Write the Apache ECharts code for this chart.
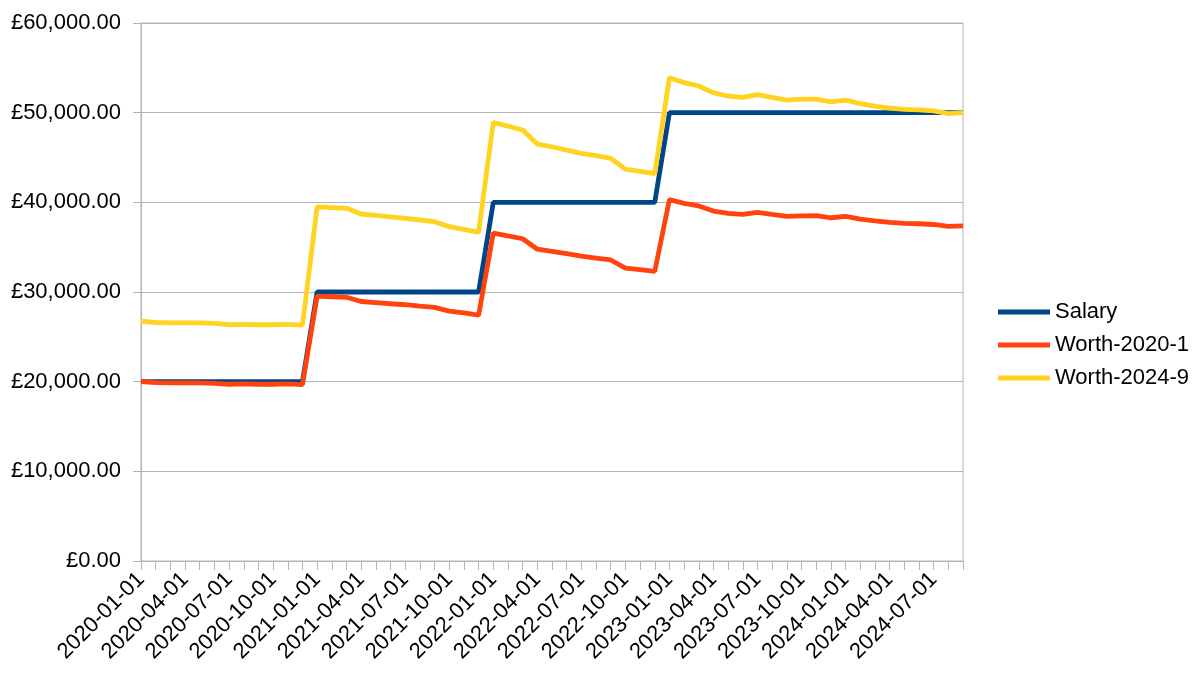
<!DOCTYPE html>
<html>
<head>
<meta charset="utf-8">
<script src="https://cdn.jsdelivr.net/npm/echarts@6/dist/echarts.min.js"></script>
<style>
html,body{margin:0;padding:0;background:#fff;}
#chart{width:1202px;height:688px;}
</style>
</head>
<body>
<div id="chart"></div>
<script>
const categories = [
 '2020-01-01','2020-02-01','2020-03-01','2020-04-01','2020-05-01','2020-06-01','2020-07-01','2020-08-01','2020-09-01','2020-10-01','2020-11-01','2020-12-01',
 '2021-01-01','2021-02-01','2021-03-01','2021-04-01','2021-05-01','2021-06-01','2021-07-01','2021-08-01','2021-09-01','2021-10-01','2021-11-01','2021-12-01',
 '2022-01-01','2022-02-01','2022-03-01','2022-04-01','2022-05-01','2022-06-01','2022-07-01','2022-08-01','2022-09-01','2022-10-01','2022-11-01','2022-12-01',
 '2023-01-01','2023-02-01','2023-03-01','2023-04-01','2023-05-01','2023-06-01','2023-07-01','2023-08-01','2023-09-01','2023-10-01','2023-11-01','2023-12-01',
 '2024-01-01','2024-02-01','2024-03-01','2024-04-01','2024-05-01','2024-06-01','2024-07-01','2024-08-01','2024-09-01'
];

const salary = [
 20000,20000,20000,20000,20000,20000,20000,20000,20000,20000,20000,20000,
 30000,30000,30000,30000,30000,30000,30000,30000,30000,30000,30000,30000,
 40000,40000,40000,40000,40000,40000,40000,40000,40000,40000,40000,40000,
 50000,50000,50000,50000,50000,50000,50000,50000,50000,50000,50000,50000,
 50000,50000,50000,50000,50000,50000,50000,50000,50000
];

const worth2020 = [
 20000,19900,19860,19860,19860,19820,19710,19750,19710,19710,19750,19670,
 29540,29470,29410,28940,28820,28690,28580,28430,28290,27870,27660,27410,
 36560,36260,35940,34770,34540,34270,34000,33790,33570,32670,32490,32300,
 40300,39890,39600,39030,38770,38650,38880,38650,38430,38500,38520,38280,
 38430,38130,37940,37760,37660,37610,37530,37310,37380
];

const worth2024 = [
 26750,26600,26550,26550,26550,26500,26350,26400,26350,26350,26400,26300,
 39500,39420,39330,38700,38550,38370,38220,38030,37840,37280,36990,36660,
 48900,48500,48070,46500,46200,45830,45470,45200,44900,43700,43450,43200,
 53900,53350,52970,52200,51860,51700,52000,51700,51400,51500,51520,51200,
 51400,51000,50740,50500,50370,50300,50200,49900,50000
];

const yTicks = { min: 0, max: 60000, interval: 10000 };

const FONT = 'Liberation Sans';
const chart = echarts.init(document.getElementById('chart'), null, { renderer: 'canvas' });

function fmtMoney(v) {
  return '£' + Number(v).toLocaleString('en-GB', { minimumFractionDigits: 2, maximumFractionDigits: 2 });
}

chart.setOption({
  animation: false,
  backgroundColor: '#ffffff',
  textStyle: { fontFamily: FONT },
  grid: {
    left: 141, right: 239, top: 23, bottom: 127,
    show: true, borderColor: '#b3b3b3', borderWidth: 1, backgroundColor: 'transparent'
  },
  legend: {
    orient: 'vertical',
    left: 998,
    top: 301,
    padding: 0,
    icon: 'rect',
    itemWidth: 52,
    itemHeight: 5,
    itemGap: 11,
    textStyle: { fontFamily: FONT, fontSize: 22, color: '#000' },
    data: ['Salary', 'Worth-2020-1', 'Worth-2024-9']
  },
  xAxis: {
    type: 'category',
    data: categories,
    boundaryGap: false,
    axisLine: { show: true, lineStyle: { color: '#b3b3b3', width: 1 } },
    axisTick: { show: true, interval: 0, length: 9, lineStyle: { color: '#b3b3b3' } },
    axisLabel: {
      interval: 2,
      rotate: 45,
      margin: 15,
      fontFamily: FONT,
      fontSize: 22,
      color: '#000'
    },
    splitLine: { show: false }
  },
  yAxis: {
    type: 'value',
    min: yTicks.min,
    max: yTicks.max,
    interval: yTicks.interval,
    axisLine: { show: true, lineStyle: { color: '#b3b3b3', width: 1 } },
    axisTick: { show: true, length: 8, lineStyle: { color: '#b3b3b3' } },
    axisLabel: {
      formatter: fmtMoney,
      margin: 20,
      fontFamily: FONT,
      fontSize: 22,
      color: '#000'
    },
    splitLine: { show: true, lineStyle: { color: '#b3b3b3', width: 1 } }
  },
  series: [
    {
      name: 'Salary', type: 'line', data: salary,
      showSymbol: false, symbol: 'none',
      lineStyle: { color: '#004586', width: 4.8 },
      itemStyle: { color: '#004586' }
    },
    {
      name: 'Worth-2020-1', type: 'line', data: worth2020,
      showSymbol: false, symbol: 'none',
      lineStyle: { color: '#ff420e', width: 4.8 },
      itemStyle: { color: '#ff420e' }
    },
    {
      name: 'Worth-2024-9', type: 'line', data: worth2024,
      showSymbol: false, symbol: 'none',
      lineStyle: { color: '#ffd320', width: 4.8 },
      itemStyle: { color: '#ffd320' }
    }
  ]
});
</script>
</body>
</html>
